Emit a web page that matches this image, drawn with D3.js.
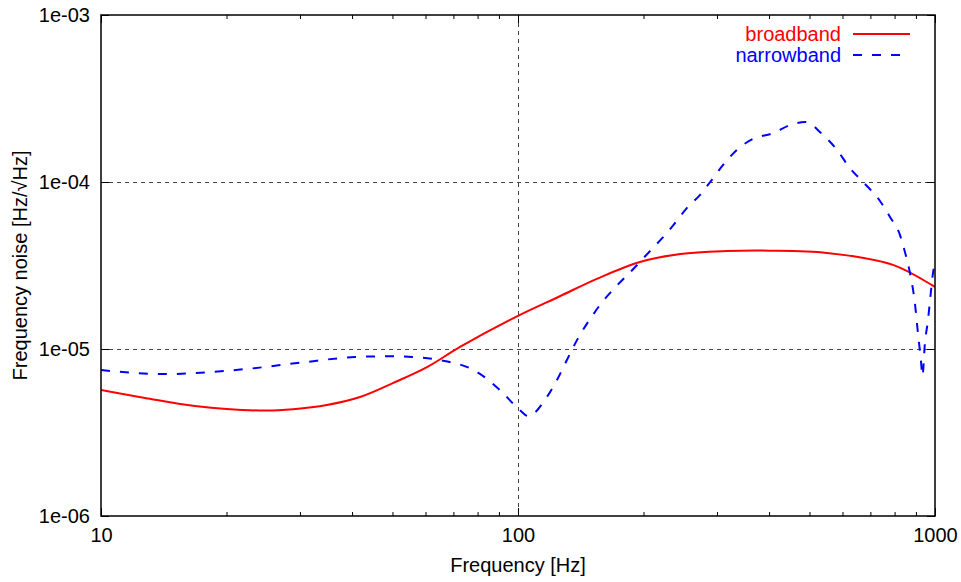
<!DOCTYPE html>
<html>
<head>
<meta charset="utf-8">
<script src="https://cdn.jsdelivr.net/npm/d3@7"></script>
<style>
  html, body { margin: 0; padding: 0; background: #fff; }
  svg { display: block; font-family: "Liberation Sans", Arial, Helvetica, sans-serif; }
</style>
</head>
<body>
<svg id="chart" width="961" height="582"></svg>
<script>
// Frequency noise spectra (Hz/√Hz) versus Fourier frequency (Hz)
const broadbandFreq  = [10, 12.75, 16.8, 24.7, 28.9, 34.8, 41.8, 50.1, 60.5, 72.6, 100, 126, 155, 196, 245, 317, 400, 551, 793, 984, 1000];
const broadbandNoise = [5.68e-6, 5.09e-6, 4.56e-6, 4.28e-6, 4.36e-6, 4.62e-6, 5.16e-6, 6.25e-6, 7.79e-6, 1.03e-5, 1.58e-5, 2.07e-5, 2.64e-5, 3.32e-5, 3.71e-5, 3.86e-5, 3.88e-5, 3.76e-5, 3.19e-5, 2.41e-5, 2.35e-5];

const narrowbandFreq  = [10, 14.2, 22.2, 30.3, 40.6, 49.3, 55.9, 65, 79.8, 90.5, 101, 105.7, 117.3, 124, 131, 138.5, 153, 196, 234, 254, 273, 289, 310, 335, 366, 409, 449, 488, 539, 582, 625, 672, 738, 780, 824, 847, 871, 895, 910, 925, 933, 946, 962, 973, 989, 1000];
const narrowbandNoise = [7.48e-6, 7.08e-6, 7.58e-6, 8.3e-6, 8.95e-6, 9.05e-6, 8.95e-6, 8.59e-6, 7.28e-6, 5.68e-6, 4.31e-6, 3.97e-6, 5.16e-6, 6.52e-6, 8.59e-6, 1.13e-5, 1.67e-5, 3.32e-5, 5.38e-5, 6.98e-5, 8.35e-5, 1.0e-4, 1.26e-4, 1.56e-4, 1.81e-4, 1.96e-4, 2.19e-4, 2.29e-4, 1.91e-4, 1.56e-4, 1.21e-4, 1.0e-4, 7.7e-5, 6.17e-5, 4.82e-5, 3.81e-5, 2.85e-5, 1.88e-5, 1.25e-5, 8.6e-6, 6.9e-6, 1.09e-5, 1.49e-5, 1.96e-5, 2.85e-5, 3.27e-5];

const xMajorTicks = [10, 100, 1000];
const xTickLabels = ["10", "100", "1000"];
const xMinorTicks = [20, 30, 40, 50, 60, 70, 80, 90, 200, 300, 400, 500, 600, 700, 800, 900];
const yMajorTicks = [1e-6, 1e-5, 1e-4, 1e-3];
const yTickLabels = ["1e-06", "1e-05", "1e-04", "1e-03"];

const seriesNames = ["broadband", "narrowband"];
const seriesColors = ["#ff0000", "#0000ff"];

const plotLeft = 101, plotRight = 935, plotTop = 15, plotBottom = 516;
const fontSize = 20;

const svg = d3.select("#chart");
const x = d3.scaleLog().domain([10, 1000]).range([plotLeft, plotRight]);
const y = d3.scaleLog().domain([1e-6, 1e-3]).range([plotBottom, plotTop]);

// grid lines (interior decades only)
const grid = svg.append("g").attr("stroke", "#444").attr("stroke-width", 1)
  .attr("stroke-dasharray", "4,4").attr("fill", "none");
grid.selectAll("line.h").data(yMajorTicks.slice(1, -1)).join("line")
  .attr("x1", plotLeft).attr("x2", plotRight)
  .attr("y1", d => Math.round(y(d)) + 0.5).attr("y2", d => Math.round(y(d)) + 0.5);
grid.selectAll("line.v").data(xMajorTicks.slice(1, -1)).join("line")
  .attr("y1", plotTop).attr("y2", plotBottom)
  .attr("x1", d => Math.round(x(d)) + 0.5).attr("x2", d => Math.round(x(d)) + 0.5);

// axes with inward ticks
const fmtX = d => xTickLabels[xMajorTicks.indexOf(d)];
const fmtY = d => yTickLabels[yMajorTicks.indexOf(d)];

function styleAxis(g) {
  g.select(".domain").remove();
  g.selectAll("line").attr("stroke", "#000").attr("stroke-width", 1);
  g.selectAll("text").attr("font-size", fontSize).attr("fill", "#000")
    .attr("font-family", "'Liberation Sans', Arial, sans-serif");
}

svg.append("g").attr("transform", `translate(0,${plotBottom})`)
  .call(d3.axisBottom(x).tickValues(xMajorTicks).tickFormat(fmtX).tickSize(-8).tickPadding(12))
  .call(styleAxis);
svg.append("g").attr("transform", `translate(0,${plotBottom})`)
  .call(d3.axisBottom(x).tickValues(xMinorTicks).tickFormat("").tickSize(-4))
  .call(styleAxis);
svg.append("g").attr("transform", `translate(0,${plotTop})`)
  .call(d3.axisTop(x).tickValues(xMajorTicks).tickFormat("").tickSize(-8))
  .call(styleAxis);
svg.append("g").attr("transform", `translate(0,${plotTop})`)
  .call(d3.axisTop(x).tickValues(xMinorTicks).tickFormat("").tickSize(-4))
  .call(styleAxis);
svg.append("g").attr("transform", `translate(${plotLeft},0)`)
  .call(d3.axisLeft(y).tickValues(yMajorTicks).tickFormat(fmtY).tickSize(-8).tickPadding(11))
  .call(styleAxis);
svg.append("g").attr("transform", `translate(${plotRight},0)`)
  .call(d3.axisRight(y).tickValues(yMajorTicks).tickFormat("").tickSize(-8))
  .call(styleAxis);

// curves
svg.append("clipPath").attr("id", "plotClip").append("rect")
  .attr("x", plotLeft).attr("y", plotTop)
  .attr("width", plotRight - plotLeft).attr("height", plotBottom - plotTop);

const smoothLine = d3.line().x(d => x(d[0])).y(d => y(d[1])).curve(d3.curveCatmullRom.alpha(0.5));
const dipLine = d3.line().x(d => x(d[0])).y(d => y(d[1])).curve(d3.curveMonotoneX);
const plot = svg.append("g").attr("clip-path", "url(#plotClip)");

plot.append("path")
  .datum(broadbandFreq.map((f, i) => [f, broadbandNoise[i]]))
  .attr("d", smoothLine).attr("fill", "none")
  .attr("stroke", seriesColors[0]).attr("stroke-width", 2);

plot.append("path")
  .datum(narrowbandFreq.map((f, i) => [f, narrowbandNoise[i]]))
  .attr("d", dipLine).attr("fill", "none")
  .attr("stroke", seriesColors[1]).attr("stroke-width", 2)
  .attr("stroke-dasharray", "9,10");

// frame
svg.append("rect").attr("x", plotLeft).attr("y", plotTop)
  .attr("width", plotRight - plotLeft).attr("height", plotBottom - plotTop)
  .attr("fill", "none").attr("stroke", "#000").attr("stroke-width", 1.5);

// legend
const legend = svg.append("g");
seriesNames.forEach((name, i) => {
  const ly = 34 + i * 21;
  legend.append("text").attr("x", 841).attr("y", ly + 7)
    .attr("text-anchor", "end").attr("font-size", fontSize)
    .attr("fill", seriesColors[i]).text(name);
  legend.append("line").attr("x1", 853).attr("x2", 910)
    .attr("y1", ly).attr("y2", ly)
    .attr("stroke", seriesColors[i]).attr("stroke-width", 2)
    .attr("stroke-dasharray", i === 1 ? "9,10" : null);
});

// axis titles
svg.append("text").attr("x", (plotLeft + plotRight) / 2).attr("y", 572)
  .attr("text-anchor", "middle").attr("font-size", fontSize).text("Frequency [Hz]");
svg.append("text")
  .attr("transform", `translate(27,${(plotTop + plotBottom) / 2}) rotate(-90)`)
  .attr("text-anchor", "middle").attr("font-size", fontSize).text("Frequency noise [Hz/√Hz]");
</script>
</body>
</html>
